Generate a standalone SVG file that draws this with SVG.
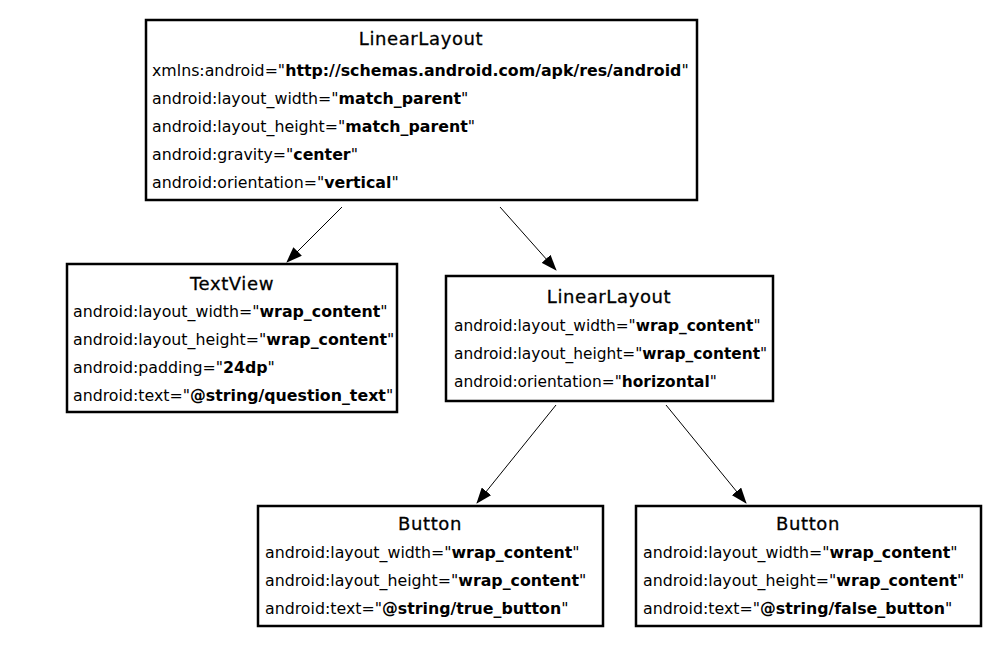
<svg xmlns="http://www.w3.org/2000/svg" width="998" height="657" viewBox="0 0 998 657">
<style>
.box{fill:#fff;stroke:#000;stroke-width:2.5}
.t{font-family:"DejaVu Sans",Verdana,sans-serif;font-size:18px;text-anchor:middle;fill:#000;letter-spacing:0.6px;stroke:#000;stroke-width:0.3}
.a{font-family:"DejaVu Sans",Verdana,sans-serif;font-size:15.8px;fill:#000}
.m{font-size:15.4px}
.b{font-weight:bold}
.c{stroke:#000;stroke-width:1;fill:none;marker-end:url(#ah)}
</style>
<defs>
<marker id="ah" markerWidth="16" markerHeight="12" refX="15" refY="6" orient="auto" markerUnits="userSpaceOnUse">
<path d="M0,0 L16,6 L0,12 Z" fill="#000"/>
</marker>
</defs>
<rect width="998" height="657" fill="#fff"/>
<g id="connectors">
<line class="c" x1="342" y1="207" x2="287" y2="262"/>
<line class="c" x1="500" y1="207" x2="556" y2="270"/>
<line class="c" x1="556" y1="405" x2="477" y2="503"/>
<line class="c" x1="666" y1="405" x2="746" y2="503"/>
</g>
<g id="root">
<rect class="box" x="146" y="20" width="551" height="180"/>
<text class="t" x="421" y="45">LinearLayout</text>
<text class="a" x="152" y="76">xmlns:android="<tspan class="b">http://schemas.android.com/apk/res/android</tspan>"</text>
<text class="a" x="152" y="104">android:layout_width="<tspan class="b">match_parent</tspan>"</text>
<text class="a" x="152" y="132">android:layout_height="<tspan class="b">match_parent</tspan>"</text>
<text class="a" x="152" y="160">android:gravity="<tspan class="b">center</tspan>"</text>
<text class="a" x="152" y="188">android:orientation="<tspan class="b">vertical</tspan>"</text>
</g>
<g id="textview">
<rect class="box" x="67" y="264" width="330" height="148"/>
<text class="t" x="232" y="290">TextView</text>
<text class="a" x="73" y="317">android:layout_width="<tspan class="b">wrap_content</tspan>"</text>
<text class="a" x="73" y="345">android:layout_height="<tspan class="b">wrap_content</tspan>"</text>
<text class="a" x="73" y="373">android:padding="<tspan class="b">24dp</tspan>"</text>
<text class="a" x="73" y="401">android:text="<tspan class="b">@string/question_text</tspan>"</text>
</g>
<g id="linearlayout2">
<rect class="box" x="446" y="276" width="327" height="125"/>
<text class="t" x="609" y="303">LinearLayout</text>
<text class="a m" x="454" y="331">android:layout_width="<tspan class="b">wrap_content</tspan>"</text>
<text class="a m" x="454" y="359">android:layout_height="<tspan class="b">wrap_content</tspan>"</text>
<text class="a m" x="454" y="387">android:orientation="<tspan class="b">horizontal</tspan>"</text>
</g>
<g id="button1">
<rect class="box" x="258" y="506" width="345" height="120"/>
<text class="t" x="430" y="530">Button</text>
<text class="a" x="265" y="558">android:layout_width="<tspan class="b">wrap_content</tspan>"</text>
<text class="a" x="265" y="586">android:layout_height="<tspan class="b">wrap_content</tspan>"</text>
<text class="a" x="265" y="614">android:text="<tspan class="b">@string/true_button</tspan>"</text>
</g>
<g id="button2">
<rect class="box" x="636" y="506" width="345" height="120"/>
<text class="t" x="808" y="530">Button</text>
<text class="a" x="643" y="558">android:layout_width="<tspan class="b">wrap_content</tspan>"</text>
<text class="a" x="643" y="586">android:layout_height="<tspan class="b">wrap_content</tspan>"</text>
<text class="a" x="643" y="614">android:text="<tspan class="b">@string/false_button</tspan>"</text>
</g>
</svg>
